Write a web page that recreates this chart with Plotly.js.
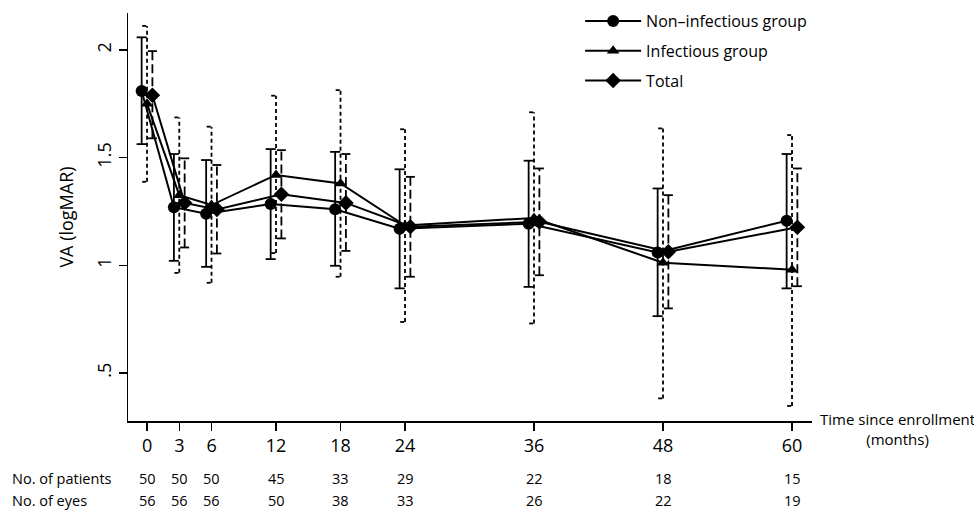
<!DOCTYPE html>
<html>
<head>
<meta charset="utf-8">
<script src="https://cdn.plot.ly/plotly-3.0.1.min.js"></script>
<style>html,body{margin:0;padding:0;background:#fff;}#chart{width:974px;height:510px;}</style>
</head>
<body>
<div id="chart"></div>
<script>
// ---- data ----
const months = [0, 3, 6, 12, 18, 24, 36, 48, 60];
const tickLabels = ['0', '3', '6', '12', '18', '24', '36', '48', '60'];

const nonInfMean = [1.81, 1.27, 1.24, 1.285, 1.26, 1.17, 1.193, 1.06, 1.207];
const nonInfLow  = [1.563, 1.021, 0.993, 1.029, 0.998, 0.893, 0.900, 0.764, 0.893];
const nonInfHigh = [2.059, 1.517, 1.489, 1.540, 1.527, 1.446, 1.486, 1.357, 1.517];

const infMean = [1.75, 1.326, 1.28, 1.42, 1.38, 1.185, 1.22, 1.012, 0.98];
const infLow  = [1.388, 0.965, 0.919, 1.057, 0.947, 0.737, 0.730, 0.382, 0.347];
const infHigh = [2.112, 1.687, 1.644, 1.788, 1.814, 1.632, 1.711, 1.636, 1.605];

const totalMean = [1.79, 1.29, 1.26, 1.33, 1.29, 1.179, 1.202, 1.063, 1.177];
const totalLow  = [1.590, 1.083, 1.055, 1.125, 1.067, 0.947, 0.954, 0.800, 0.903];
const totalHigh = [1.995, 1.497, 1.466, 1.535, 1.517, 1.411, 1.450, 1.326, 1.450];

const patients = [50, 50, 50, 45, 33, 29, 22, 18, 15];
const eyes     = [56, 56, 56, 50, 38, 33, 26, 22, 19];

const yTickVals = [0.5, 1, 1.5, 2];
const yTickText = ['.5', '1', '1.5', '2'];

// ---- build ----
const FONT = 'Open Sans, sans-serif';

function errTrace(offset, lo, hi, capL, capR, dash, width) {
  const xs = [], ys = [];
  months.forEach((m, i) => {
    const x = m + offset;
    xs.push(x, x, null, x - capL, x + capR, null, x - capL, x + capR, null);
    ys.push(lo[i], hi[i], null, hi[i], hi[i], null, lo[i], lo[i], null);
  });
  return {
    x: xs, y: ys, type: 'scatter', mode: 'lines', showlegend: false, hoverinfo: 'skip',
    line: {color: '#000', width: width, dash: dash}
  };
}

function meanTrace(name, offset, vals, symbol, size, group) {
  return {
    x: months.map(m => m + offset), y: vals, name: name, type: 'scatter', mode: 'lines+markers',
    legendgroup: group,
    line: {color: '#000', width: 2},
    marker: {color: '#000', symbol: symbol, size: size}
  };
}

const traces = [
  errTrace(-0.5, nonInfLow, nonInfHigh, 0.47, 0.47, 'solid', 1.8),
  errTrace(0, infLow, infHigh, 0.45, 0.12, '4px,3px', 1.8),
  errTrace(0.5, totalLow, totalHigh, 0.42, 0.42, '9px,4px', 1.8),
  meanTrace('Non\u2013infectious group', -0.5, nonInfMean, 'circle', 12, 'a'),
  meanTrace('Infectious group', 0, infMean, 'triangle-up', 11, 'b'),
  meanTrace('Total', 0.5, totalMean, 'diamond', 12, 'c')
];

const tf = {size: 14.5, color: '#000', family: FONT};
const annotations = [];
months.forEach((m, i) => {
  annotations.push({x: m, xref: 'x', y: -0.14, yref: 'paper', text: String(patients[i]),
    showarrow: false, xanchor: 'center', yanchor: 'middle', font: tf});
  annotations.push({x: m, xref: 'x', y: -0.195, yref: 'paper', text: String(eyes[i]),
    showarrow: false, xanchor: 'center', yanchor: 'middle', font: tf});
});
annotations.push({x: -0.1725, xref: 'paper', y: -0.14, yref: 'paper', text: 'No. of patients',
  showarrow: false, xanchor: 'left', yanchor: 'middle', font: tf});
annotations.push({x: -0.1725, xref: 'paper', y: -0.195, yref: 'paper', text: 'No. of eyes',
  showarrow: false, xanchor: 'left', yanchor: 'middle', font: tf});
annotations.push({x: 1, xref: 'paper', y: 0, yref: 'paper', xshift: 6, yshift: 14,
  text: 'Time since enrollment<br>(months)', align: 'center',
  showarrow: false, xanchor: 'left', yanchor: 'top', font: {size: 15, color: '#000', family: FONT}});

const layout = {
  width: 974, height: 510,
  margin: {l: 128, r: 162, t: 13, b: 89, autoexpand: false},
  paper_bgcolor: '#fff', plot_bgcolor: '#fff',
  font: {family: FONT, color: '#000'},
  showlegend: true,
  legend: {
    x: 0.661, xanchor: 'left', y: 1.022, yanchor: 'top',
    font: {size: 16, color: '#000', family: FONT},
    itemwidth: 56, tracegroupgap: 6, bgcolor: 'rgba(0,0,0,0)'
  },
  xaxis: {
    range: [-1.77, 61.86], tickvals: months, ticktext: tickLabels,
    ticks: 'outside', ticklen: 8, tickwidth: 1.5, tickcolor: '#000',
    showline: true, linewidth: 1.5, linecolor: '#000',
    showgrid: false, zeroline: false, tickfont: {size: 18, family: FONT, color: '#000'}
  },
  yaxis: {
    range: [0.277, 2.172], tickvals: yTickVals, ticktext: yTickText, tickangle: -90,
    ticks: 'outside', ticklen: 8, tickwidth: 1.5, tickcolor: '#000',
    showline: true, linewidth: 1.5, linecolor: '#000',
    showgrid: false, zeroline: false, tickfont: {size: 18, family: FONT, color: '#000'},
    title: {text: 'VA (logMAR)', font: {size: 18, family: FONT, color: '#000'}, standoff: 14}
  },
  annotations: annotations
};

Plotly.newPlot('chart', traces, layout, {displayModeBar: false, staticPlot: true});
</script>
</body>
</html>
